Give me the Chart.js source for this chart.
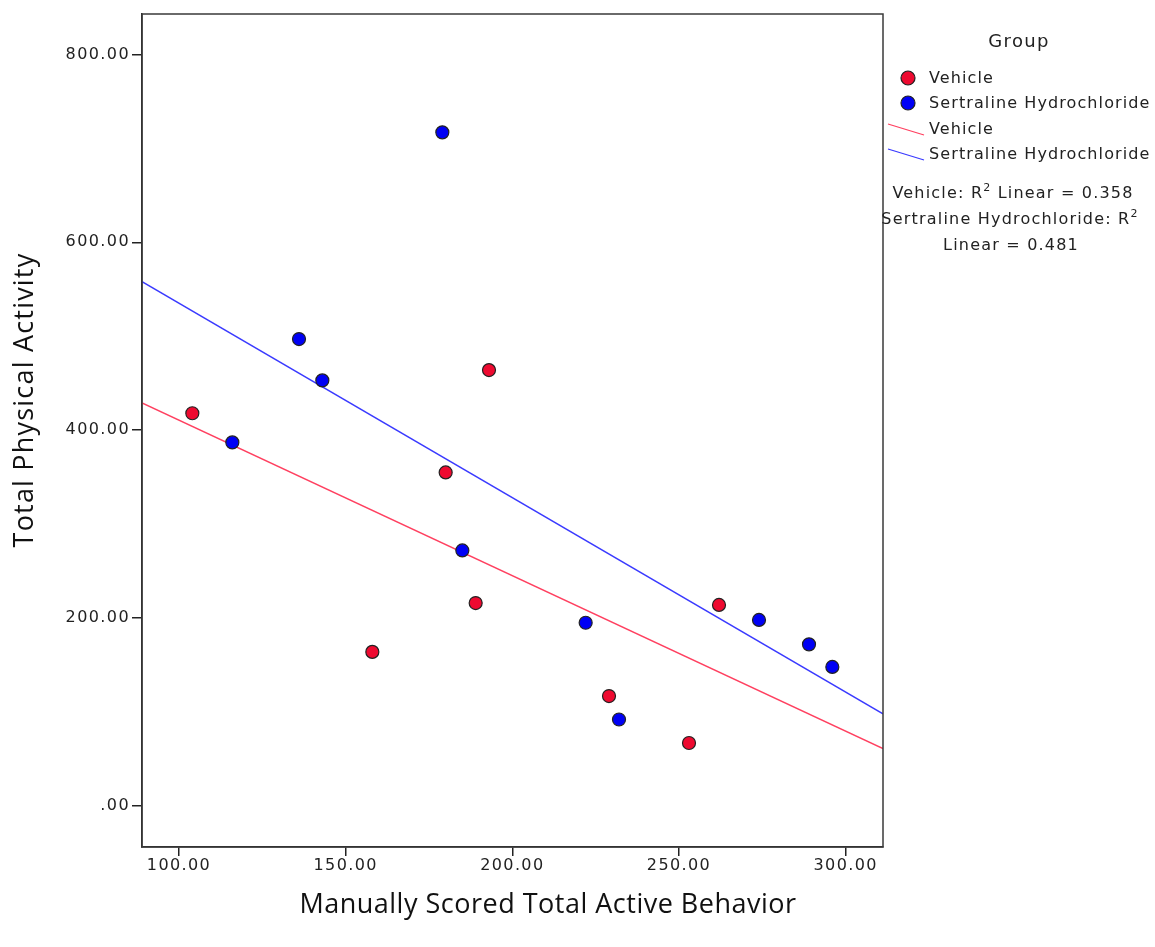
<!DOCTYPE html>
<html>
<head>
<meta charset="utf-8">
<script src="https://cdn.jsdelivr.net/npm/chart.js@4/dist/chart.umd.min.js"></script>
<style>
  html, body { margin: 0; padding: 0; background: #fff; }
  #wrap { width: 1155px; height: 947px; position: relative; }
</style>
</head>
<body>
<div id="wrap"><canvas id="c" width="1155" height="947"></canvas></div>
<script>
// ---- data ----
const vehicleX = [104, 158, 180, 189, 193, 229, 253, 262];
const vehicleY = [418, 164, 355, 216, 464, 117, 67, 214];
const sertralineX = [116, 136, 143, 179, 185, 222, 232, 274, 289, 296];
const sertralineY = [387, 497, 453, 717, 272, 195, 92, 198, 172, 148];

// fit lines as drawn (endpoints at the axis limits)
const vehicleFitX = [88.9, 311.2];
const vehicleFitY = [429, 61];
const sertralineFitX = [88.9, 311.2];
const sertralineFitY = [558, 98];

const xTicks = [100, 150, 200, 250, 300];
const xTickLabels = ['100.00', '150.00', '200.00', '250.00', '300.00'];
const yTicks = [0, 200, 400, 600, 800];
const yTickLabels = ['.00', '200.00', '400.00', '600.00', '800.00'];

const groupNames = ['Vehicle', 'Sertraline Hydrochloride'];
const r2Values = ['0.358', '0.481'];

const xTitle = 'Manually Scored Total Active Behavior';
const yTitle = 'Total Physical Activity';

// ---- styles ----
const RED = '#ee0a30';
const BLUE = '#0000f5';
const RED_LINE = '#ff4060';
const BLUE_LINE = '#3a3aff';
const SANS = '"DejaVu Sans", Verdana, sans-serif';

const pts = (xs, ys) => xs.map((x, i) => ({ x: x, y: ys[i] }));

const spacingPlugin = {
  id: 'spacing',
  beforeDraw(chart) {
    chart.ctx.letterSpacing = '1.4px';
  }
};

const framePlugin = {
  id: 'frame',
  afterDatasetsDraw(chart) {
    const { ctx, chartArea: a } = chart;
    ctx.save();
    ctx.strokeStyle = '#3a3a3a';
    ctx.lineWidth = 1.5;
    ctx.strokeRect(a.left, a.top, a.right - a.left, a.bottom - a.top);
    ctx.restore();
  }
};

const titlesPlugin = {
  id: 'axisTitles',
  afterDraw(chart) {
    const ctx = chart.ctx;
    ctx.save();
    ctx.fillStyle = '#111';
    ctx.textAlign = 'center';
    ctx.textBaseline = 'middle';
    ctx.font = '27px "Open Sans", sans-serif';
    ctx.letterSpacing = '0.5px';
    ctx.fillText(xTitle, 548, 905);
    ctx.translate(25, 400);
    ctx.rotate(-Math.PI / 2);
    ctx.letterSpacing = '1.2px';
    ctx.fillText(yTitle, 0, 0);
    ctx.restore();
  }
};

const legendPlugin = {
  id: 'spssLegend',
  afterDraw(chart) {
    const ctx = chart.ctx;
    const ds = chart.data.datasets;
    ctx.save();
    ctx.fillStyle = '#222';
    ctx.textBaseline = 'middle';
    ctx.letterSpacing = '1.3px';
    ctx.font = '18px ' + SANS;
    ctx.textAlign = 'center';
    ctx.fillText('Group', 1019, 42);

    ctx.letterSpacing = '1.1px';
    ctx.font = '16px ' + SANS;
    ctx.textAlign = 'left';
    [0, 1].forEach((i) => {
      const y = 78 + i * 25;
      ctx.beginPath();
      ctx.arc(908, y, 7, 0, Math.PI * 2);
      ctx.fillStyle = ds[i].backgroundColor;
      ctx.fill();
      ctx.lineWidth = 1.2;
      ctx.strokeStyle = '#222';
      ctx.stroke();
      ctx.fillStyle = '#222';
      ctx.fillText(ds[i].label, 929, y + 1);
    });
    [2, 3].forEach((i, k) => {
      const y = 130 + k * 25;
      ctx.beginPath();
      ctx.moveTo(888, y - 6);
      ctx.lineTo(924, y + 5);
      ctx.strokeStyle = ds[i].borderColor;
      ctx.lineWidth = 1.3;
      ctx.stroke();
      ctx.fillStyle = '#222';
      ctx.fillText(ds[i].label, 929, y);
    });
    ctx.letterSpacing = '1.2px';
    const big = '16px ' + SANS;
    const small = '11px ' + SANS;
    const drawR2 = (pre, post, cx, y) => {
      ctx.font = big;
      const w1 = ctx.measureText(pre).width;
      ctx.font = small;
      const w2 = ctx.measureText('2').width;
      ctx.font = big;
      const w3 = ctx.measureText(post).width;
      let x = cx - (w1 + w2 + w3) / 2;
      ctx.textAlign = 'left';
      ctx.fillText(pre, x, y);
      x += w1;
      ctx.font = small;
      ctx.fillText('2', x, y - 6);
      x += w2;
      ctx.font = big;
      ctx.fillText(post, x, y);
    };
    drawR2(groupNames[0] + ': R', ' Linear = ' + r2Values[0], 1013, 194);
    drawR2(groupNames[1] + ': R', '', 1010, 220);
    ctx.textAlign = 'center';
    ctx.font = big;
    ctx.fillText('Linear = ' + r2Values[1], 1011, 246);
    ctx.restore();
  }
};

const tickFont = { family: SANS, size: 16 };

new Chart(document.getElementById('c'), {
  type: 'scatter',
  data: {
    datasets: [
      {
        label: groupNames[0],
        data: pts(vehicleX, vehicleY),
        backgroundColor: RED,
        borderColor: '#222',
        borderWidth: 1.2,
        pointRadius: 6.5,
        order: 1
      },
      {
        label: groupNames[1],
        data: pts(sertralineX, sertralineY),
        backgroundColor: BLUE,
        borderColor: '#222',
        borderWidth: 1.2,
        pointRadius: 6.5,
        order: 1
      },
      {
        type: 'line',
        label: groupNames[0],
        data: pts(vehicleFitX, vehicleFitY),
        borderColor: RED_LINE,
        borderWidth: 1.5,
        pointRadius: 0,
        fill: false,
        order: 2
      },
      {
        type: 'line',
        label: groupNames[1],
        data: pts(sertralineFitX, sertralineFitY),
        borderColor: BLUE_LINE,
        borderWidth: 1.5,
        pointRadius: 0,
        fill: false,
        order: 2
      }
    ]
  },
  options: {
    responsive: false,
    animation: false,
    layout: { padding: { top: 14, right: 272, bottom: 0, left: 0 } },
    plugins: { legend: { display: false }, tooltip: { enabled: false } },
    scales: {
      x: {
        type: 'linear',
        min: 88.9,
        max: 311.2,
        afterBuildTicks: (s) => { s.ticks = xTicks.map((v) => ({ value: v })); },
        afterFit: (s) => { s.height = 100; },
        ticks: {
          callback: (v, i) => xTickLabels[i],
          font: tickFont,
          color: '#222',
          padding: 0,
          maxRotation: 0
        },
        grid: { display: true, drawOnChartArea: false, drawTicks: true, tickLength: 9, color: '#222', lineWidth: 1.5 },
        border: { display: true, color: '#222', width: 1.5 },
        title: { display: false }
      },
      y: {
        type: 'linear',
        min: -43.7,
        max: 843,
        afterBuildTicks: (s) => { s.ticks = yTicks.map((v) => ({ value: v })); },
        afterFit: (s) => { s.width = 142; },
        ticks: {
          callback: (v, i) => yTickLabels[i],
          font: tickFont,
          color: '#222',
          padding: 2
        },
        grid: { display: true, drawOnChartArea: false, drawTicks: true, tickLength: 10, color: '#222', lineWidth: 1.5 },
        border: { display: true, color: '#222', width: 1.5 },
        title: { display: false }
      }
    }
  },
  plugins: [spacingPlugin, framePlugin, titlesPlugin, legendPlugin]
});
</script>
</body>
</html>
